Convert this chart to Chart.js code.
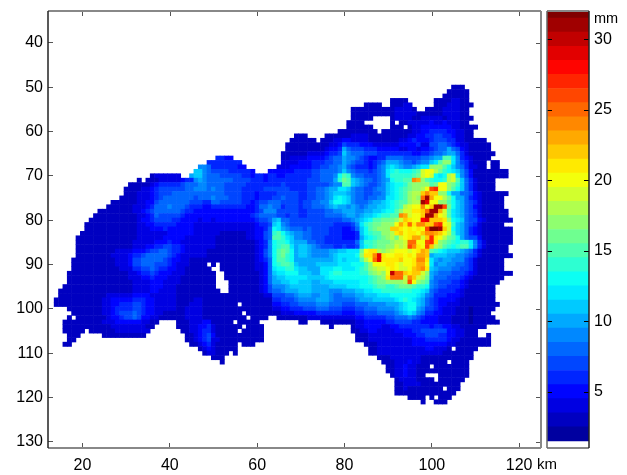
<!DOCTYPE html>
<html>
<head>
<meta charset="utf-8">
<title>Rainfall map</title>
<script src="https://cdn.jsdelivr.net/npm/chart.js@4"></script>
<style>
  html, body { margin: 0; background: #fff; }
  canvas { position: absolute; left: 0; top: 0; }
</style>
</head>
<body>
<canvas id="map" width="627" height="475"></canvas>
<canvas id="bar" width="627" height="475"></canvas>
<script>
const xTicks = [20, 40, 60, 80, 100, 120];
const yTicks = [40, 50, 60, 70, 80, 90, 100, 110, 120, 130];
const barTicks = [5, 10, 15, 20, 25, 30];
const barLevels = [2, 3, 4, 5, 6, 7, 8, 9, 10, 11, 12, 13, 14, 15, 16, 17, 18, 19, 20, 21, 22, 23, 24, 25, 26, 27, 28, 29, 30, 31, 32];
const firstRowKm = 50;   // y of the first row below
const firstColKm = 10;   // x of the first column of each row
// rain per 1 km cell, one char per cell in base 36 (a=10, f=15, k=20, p=25, u=30), '.' is no data
const cellRows = [
".......... .......... .......... .......... .......... .......... .......... .......... .......... .....333.. ..........",
".......... .......... .......... .......... .......... .......... .......... .......... .......... ....33333. ..........",
".......... .......... .......... .......... .......... .......... .......... .......... .......... ...333333. ..........",
".......... .......... .......... .......... .......... .......... .......... .......... .3333..... .33334433. ..........",
".......... .......... .......... .......... .......... .......... .......... .....3333. .33344.... .333444333 ..........",
".......... .......... .......... .......... .......... .......... .......... ..33333333 3344443..3 333444433. ..........",
".......... .......... .......... .......... .......... .......... .......... ..33333333 3344444333 333444433. ..........",
".......... .......... .......... .......... .......... .......... .......... ..33333... .344443344 4443444333 ..........",
".......... .......... .......... .......... .......... .......... .......... .3333..... .3.3344444 544544433. ..........",
".......... .......... .......... .......... .......... .......... .......... .333333... .333.34455 5555544333 3.........",
".......... .......... .......... .......... .......... .......... .........3 33333333.3 3333334455 6666554433 ..........",
".......... .......... .......... .......... .......... .........3 33....3333 3344443333 3333344556 6776654433 ..........",
".......... .......... .......... .......... .......... ........33 3333.33344 5544443333 3334456555 6777664433 333.......",
".......... .......... .......... .......... .......... .......333 3333333445 7666555444 4445555644 7788765443 3333......",
".......... .......... .......... .......... .......... .......333 3333334556 a877766655 5554455455 6788a87543 3333......",
".......... .......... .......... .......... .......... ......3333 3344445667 b988877766 6666665566 7889aa8643 33333.....",
".......... .......... .......... .......... .6655..... ......3344 4455556788 a998765566 8888777788 9aaffc9654 3333......",
".......... .......... .......... .........6 6666666... ......4444 5556667788 a987765678 aaa9887899 bcfhhc9764 333.33....",
".......... .......... .......... .......998 66666655.. .....44455 5556677889 a876665689 bcba99abcc hhhfdb9864 433.33....",
".......... .......... .......... ......bb98 7777666665 ...5555556 6667788889 b987776789 cdedddefjk kigedcb975 33333333..",
".......... .......... ......3444 444..abb98 8877777665 6656655666 666778889d fe98877789 ceeeeefgjk jdcdijc975 33333333..",
".......... .......... ...3.33344 4445669a98 8888877776 6656666666 66777888ae gfba988789 adeeffonhf eddeijfb86 43333.....",
".......... .......... .333334566 6667888998 8887777766 6666667666 6677777899 ffba987789 bcddeghhhh fgkkhgeb86 43333.....",
".......... .......... 3333445677 7777889998 9887777666 6677777766 6677889aac cb98877899 bcdefghhik qrkkhfdb86 43333.....",
".......... .......... 3334445677 7888888888 8887777666 5666677777 6677889abb ba98877889 bcdefhiimo mmhhdaa887 54333333..",
".......... .........3 3334445678 8888887888 9888777666 5666778777 6677889acd cb98878899 ccdefhihpv nkkigdaa86 5433333...",
".......... .......333 3334455788 8888877766 8877777665 6778887777 6778899bdd cb98889aab cdeffhiivt kkhhfdba87 6433333...",
".......... ......3333 3344456888 9888766655 6666666655 6889886777 6778889aba a9a989aabb cdefijkkok mvvqgdba87 5433333...",
".......... ....333333 3344567888 8887665555 5555555555 6799977777 6677778899 aaa99aabbc ddfhjjllmp vvnjfcba87 64333333..",
".......... ...3333333 3334456877 7776555555 5555555556 7888877677 6677778888 9aa9abbcde effonjkkmv vnkjfcba87 64333333..",
".......... ..33333333 3334556777 7665555455 4555555555 6778ab8877 7777777777 889abcdffg gghjmlkkst mmmlhdcb87 754333333.",
".......... .333333333 3334455666 6655554444 4444444444 5667bc9877 7777777766 6679cefggh hhknlploom mqrkjeba87 6433333...",
".......... .333333333 3334445556 5555554444 4444444444 5568dca988 8787777666 5568bdfghh hmmlklklkq wwvmjdba86 543333333.",
".......... 3333333333 3334444444 5555554444 4433333344 5578efdba9 9887777666 5556bdeffh hilmkllkmo onmkieba86 543333333.",
".........3 3333333333 3334444445 5555444444 4333333344 5578ffecb9 9887776666 5556acdefg higjklnnjm rlkigfda87 753333333.",
".........3 3333333333 3344444555 6554444444 4333333333 4569deedba aa88776666 6668beefgg ghiijppkkq rlhgfedeec 964333333.",
".........3 3333333333 3344455667 7665444444 4333333333 4569deffca bba9877766 7667bdefgg hhjijqolkq mihfedeffc 96433333..",
".........3 3333333344 4455567788 7665444443 3333333333 4579dfgfda bba9999aab bcccgkllih ijkkkjklnm fedcbbba98 64333333..",
".........3 3333333444 4566788888 7654444443 3333333333 4579dfgeda bba9999abc cccdhllotl kkllklknnm abbbaa9987 643333333.",
"........33 3333333344 4577888887 6554433333 3333333333 4568dffeda aaaaaaaabc bcccfikptl lllmkklool ca9aa99976 4333333...",
"........33 3333333344 4577888777 654443333. 3.33333333 4458deffeb aaaabbbbbc ccdddfhkkk llkjkklnnk c9aa998876 4333333...",
"........33 3333333334 4466778766 5544333333 ..33333333 4458cddeec bbaaacccdd cccdefhijj klkjjkmnol ba99988776 4333333...",
".......333 3333333333 3445667655 5444333333 3..3333333 3458bccddd bbbaaccdee ddddeeghih kuppmlmmjh a988877765 433333333.",
".......333 3333333333 3444556555 4443333333 3..3333333 3458abbccc ccbbbbcddd ddddddefgh lpppjomjig a888777654 3333333...",
".......333 3333333333 3344445554 4443333333 3...333333 3458aabbcc bbbaabbbcc ccccddefgg hhhhiqkhgf 9877766543 333333....",
"......3333 3333333333 3344445554 4433333333 3...333333 3457999abb bbbaaaabbb bcccdddeff eefgggfeed 9877666543 33333.....",
".....33333 3333333333 3344445544 4433333333 33..333333 3457889aaa bbbaaaa999 aaabbccdde eeeeeeddcb 8766665433 33333.....",
".....33333 3333334444 4455554444 4433333333 3333333333 3344777889 aaa99aa988 999aabbbcc cddddddcb9 8666555433 33333.....",
"....333333 3333344555 5566655444 4433334433 3333333333 3333667778 9999aaa988 8889aaabbb bbcdedcba8 7655554333 33333.....",
"....333333 3333344556 6677655444 4433344433 333333.333 3333556677 8888999888 7778889999 aaabcddba8 7655444333 333333....",
".......333 3333344566 6677655444 4433444433 3333333333 3333445566 6777888777 6667788899 99abcdda97 7654443332 33333.....",
"........33 3333344567 7787655443 3333444433 3333333.33 3333334445 5555666666 5556677788 889abcb986 6554443332 3333......",
".......3.3 3333334556 7787554433 3333444433 33333333.3 333..33333 3344444444 4445566666 7788898765 5544433332 33333.....",
"......3333 3333344455 55554433.. ..33344455 33333.3333 3......... 33...33333 3334455555 6677776655 5544433332 333333....",
"......3333 3333333444 4444433... ..33344556 4333333.33 33........ .......3.. ..34455554 4556666666 5665544333 333.......",
"......3333 3.33333344 444444.... ...3344566 433333.333 33........ .......... ..33445544 4455556677 7777554433 3.........",
".......333 .....33333 33333..... ....334567 5333333333 33........ .......... ...3334444 4444555667 7766554433 3..3......",
".......33. .......... .......... ....334567 4433333333 33........ .......... ...3334444 4444445556 6666544333 3333......",
"......33.. .......... .......... .....33456 433333.333 .......... .......... .....33344 4444445555 5555443333 3333......",
".......... .......... .......... .......345 433333.... .......... .......... ......3344 4444444445 54443.3333 3.........",
".......... .......... .......... ........34 4333.3.... .......... .......... ......3344 4444444444 4443333333 ..........",
".......... .......... .......... .......... 333....... .......... .......... ........33 3444444433 3333333333 ..........",
".......... .......... .......... .......... ..3....... .......... .......... .........3 3344454433 3333.3333. ..........",
".......... .......... .......... .......... .......... .......... .......... .......... 3344544333 .33333333. ..........",
".......... .......... .......... .......... .......... .......... .......... .......... 3344544333 333333333. ..........",
".......... .......... .......... .......... .......... .......... .......... .......... .34454433. ..3333333. ..........",
".......... .......... .......... .......... .......... .......... .......... .......... ..34444333 3.333333.. ..........",
".......... .......... .......... .......... .......... .......... .......... .......... ..33444433 3333333... ..........",
".......... .......... .......... .......... .......... .......... .......... .......... ..33433333 333.333... ..........",
".......... .......... .......... .......... .......... .......... .......... .......... ..33333333 333333.... ..........",
".......... .......... .......... .......... .......... .......... .......... .......... .....3333. 3.333..... ..........",
".......... .......... .......... .......... .......... .......... .......... .......... ........3. .333...... .........."
];

const FONT = '"Liberation Sans", Arial, sans-serif';
Chart.defaults.font.family = FONT;
Chart.defaults.color = '#000';

// jet, level 1 is left white
function levelColor(mm) {
  const t = (mm - 1) / 31;
  const c = v => Math.round(255 * Math.min(1, Math.max(0, 1.5 - Math.abs(4 * t - v))));
  return `rgb(${c(3)},${c(2)},${c(1)})`;
}

// turn the rows into scatter points
const points = [];
cellRows.forEach((row, r) => {
  [...row.replace(/ /g, '')].forEach((ch, c) => {
    if (ch === '.') return;
    points.push({ x: firstColKm + c, y: firstRowKm + r, v: parseInt(ch, 36) });
  });
});

function setTicks(list) {
  return scale => { scale.ticks = list.map(v => ({ value: v })); };
}

// tick labels must not push the plot box around
function fixSize(prop, size) {
  return scale => {
    scale[prop] = size;
    scale.paddingTop = scale.paddingBottom = scale.paddingLeft = scale.paddingRight = 0;
  };
}

function line(ctx, color, width, x1, y1, x2, y2) {
  ctx.strokeStyle = color;
  ctx.lineWidth = width;
  ctx.beginPath();
  ctx.moveTo(x1, y1);
  ctx.lineTo(x2, y2);
  ctx.stroke();
}

// matlab style box, the top and right ticks and the km label
const mapFrame = {
  id: 'mapFrame',
  afterDraw(chart) {
    const { ctx, chartArea: a, scales } = chart;
    ctx.save();
    xTicks.forEach(v => {
      const x = Math.round(scales.x.getPixelForValue(v)) + 0.5;
      line(ctx, '#555', 1, x, a.top, x, a.top + 5);
    });
    yTicks.forEach(v => {
      const y = Math.round(scales.y.getPixelForValue(v)) + 0.5;
      line(ctx, '#555', 1, a.right, y, a.right - 5, y);
    });
    line(ctx, '#888', 2, a.left, a.top, a.right, a.top);
    line(ctx, '#888', 2, a.right, a.top, a.right, a.bottom);
    line(ctx, '#888', 2, a.left, a.bottom, a.right, a.bottom);
    line(ctx, '#222', 1.5, a.left, a.top, a.left, a.bottom);
    ctx.fillStyle = '#000';
    ctx.font = '15px ' + FONT;
    ctx.fillText('km', 537, 469);
    ctx.restore();
  }
};

new Chart(document.getElementById('map'), {
  type: 'scatter',
  data: {
    datasets: [{
      data: points,
      pointStyle: 'rect',
      pointRadius: 3.5,
      pointHoverRadius: 3.5,
      pointBorderWidth: 0,
      pointBackgroundColor: points.map(p => levelColor(p.v))
    }]
  },
  options: {
    responsive: false,
    animation: false,
    events: [],
    layout: { padding: { top: 11, right: 86 } },
    plugins: { legend: { display: false }, tooltip: { enabled: false } },
    scales: {
      x: {
        type: 'linear',
        min: 12.1,
        max: 125,
        afterBuildTicks: setTicks(xTicks),
        afterFit: fixSize('height', 27),
        border: { display: false },
        grid: { drawOnChartArea: false, tickLength: -5, color: '#555' },
        ticks: { font: { size: 16 }, padding: 13, maxRotation: 0, autoSkip: false }
      },
      y: {
        type: 'linear',
        reverse: true,
        min: 32.8,
        max: 131.4,
        afterBuildTicks: setTicks(yTicks),
        afterFit: fixSize('width', 48),
        border: { display: false },
        grid: { drawOnChartArea: false, tickLength: -5, color: '#555' },
        ticks: { font: { size: 16 }, padding: 10, autoSkip: false }
      }
    }
  },
  plugins: [mapFrame]
});

// colour bar box, ticks on both sides and the mm label
const barFrame = {
  id: 'barFrame',
  afterDraw(chart) {
    const { ctx, chartArea: a, scales } = chart;
    ctx.save();
    barTicks.forEach(v => {
      const y = Math.round(scales.y.getPixelForValue(v)) + 0.5;
      line(ctx, '#000', 1, a.left, y, a.left + 5, y);
      line(ctx, '#000', 1, a.right, y, a.right - 5, y);
    });
    line(ctx, '#888', 2, a.left, a.top, a.right, a.top);
    line(ctx, '#888', 2, a.left, a.bottom, a.right, a.bottom);
    line(ctx, '#666', 1.5, a.left, a.top, a.left, a.bottom);
    line(ctx, '#222', 1.5, a.right, a.top, a.right, a.bottom);
    ctx.fillStyle = '#000';
    ctx.font = '14.5px ' + FONT;
    ctx.fillText('mm', 594, 23);
    ctx.restore();
  }
};

new Chart(document.getElementById('bar'), {
  type: 'bar',
  data: {
    labels: ['mm'],
    datasets: barLevels.map(mm => ({
      data: [[mm - 0.5, mm + 0.5]],
      backgroundColor: levelColor(mm),
      barPercentage: 1,
      categoryPercentage: 1,
      grouped: false
    }))
  },
  options: {
    responsive: false,
    animation: false,
    events: [],
    layout: { padding: { left: 547, top: 11, bottom: 27 } },
    plugins: { legend: { display: false }, tooltip: { enabled: false } },
    scales: {
      x: { display: false },
      y: {
        position: 'right',
        min: 1,
        max: 32,
        afterBuildTicks: setTicks(barTicks),
        afterFit: fixSize('width', 38),
        border: { display: false },
        grid: { drawOnChartArea: false, drawTicks: false },
        ticks: { font: { size: 16 }, padding: 5, autoSkip: false }
      }
    }
  },
  plugins: [barFrame]
});
</script>
</body>
</html>
